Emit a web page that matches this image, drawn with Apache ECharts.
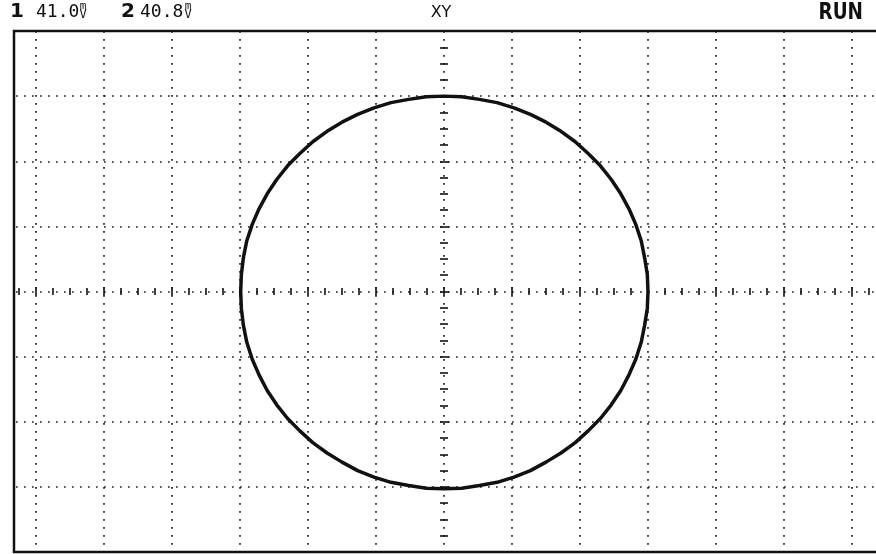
<!DOCTYPE html>
<html>
<head>
<meta charset="utf-8">
<script src="https://cdn.jsdelivr.net/npm/echarts@6/dist/echarts.min.js"></script>
<style>
  html, body { margin: 0; padding: 0; background: #fff; }
  #main { width: 876px; height: 554px; }
</style>
</head>
<body>
<div id="main"></div>
<script>
// XY trace in divisions (one point every 5 degrees)
const traceX = [3.00, 2.99, 2.95, 2.90, 2.82, 2.72, 2.60, 2.46, 2.30, 2.12, 1.93, 1.72, 1.50, 1.27, 1.03, 0.78, 0.52, 0.26, 0.00,
  -0.26, -0.52, -0.78, -1.03, -1.27, -1.50, -1.72, -1.93, -2.12, -2.30, -2.46, -2.60, -2.72, -2.82, -2.90, -2.95, -2.98, -2.99,
  -2.98, -2.95, -2.90, -2.82, -2.72, -2.60, -2.46, -2.30, -2.12, -1.93, -1.72, -1.50, -1.27, -1.03, -0.78, -0.52, -0.26, 0.00,
  0.26, 0.52, 0.78, 1.03, 1.27, 1.50, 1.72, 1.93, 2.12, 2.30, 2.46, 2.60, 2.72, 2.82, 2.90, 2.95, 2.99, 3.00];
const traceY = [0.00, 0.26, 0.52, 0.78, 1.03, 1.27, 1.50, 1.72, 1.93, 2.12, 2.30, 2.46, 2.60, 2.72, 2.82, 2.90, 2.95, 2.99, 3.00,
  2.99, 2.95, 2.90, 2.82, 2.72, 2.60, 2.46, 2.30, 2.12, 1.93, 1.72, 1.50, 1.27, 1.03, 0.78, 0.52, 0.26, 0.00,
  -0.26, -0.52, -0.78, -1.04, -1.28, -1.52, -1.74, -1.95, -2.14, -2.32, -2.48, -2.62, -2.75, -2.85, -2.93, -2.98, -3.02, -3.03,
  -3.02, -2.98, -2.93, -2.85, -2.75, -2.62, -2.48, -2.32, -2.14, -1.95, -1.74, -1.52, -1.28, -1.04, -0.78, -0.52, -0.26, 0.00];

// channel readouts
const channels = ['1', '2'];
const channelValues = ['41.0', '40.8'];
const channelUnit = ['m', 'V'];
const modeText = 'XY';
const stateText = 'RUN';

const ink = '#111';
const dotted = { color: '#222', width: 1.7, type: [1.7, 6.3] };

const chart = echarts.init(document.getElementById('main'));

const header = [
  { type: 'text', x: 10, y: 12, style: { text: channels[0], font: 'bold 20px "DejaVu Sans"', fill: ink, textVerticalAlign: 'middle' } },
  { type: 'text', x: 36, y: 12, style: { text: channelValues[0], font: '18px "DejaVu Sans Mono"', fill: ink, textVerticalAlign: 'middle' } },
  { type: 'text', x: 83, y: 6, style: { text: channelUnit[0], font: '11px "DejaVu Sans Mono"', fill: ink, textAlign: 'center', textVerticalAlign: 'middle' } },
  { type: 'text', x: 83, y: 15, style: { text: channelUnit[1], font: '12px "DejaVu Sans Mono"', fill: ink, textAlign: 'center', textVerticalAlign: 'middle' } },
  { type: 'text', x: 121, y: 12, style: { text: channels[1], font: 'bold 20px "DejaVu Sans"', fill: ink, textVerticalAlign: 'middle' } },
  { type: 'text', x: 140, y: 12, style: { text: channelValues[1], font: '18px "DejaVu Sans Mono"', fill: ink, textVerticalAlign: 'middle' } },
  { type: 'text', x: 188, y: 6, style: { text: channelUnit[0], font: '11px "DejaVu Sans Mono"', fill: ink, textAlign: 'center', textVerticalAlign: 'middle' } },
  { type: 'text', x: 188, y: 15, style: { text: channelUnit[1], font: '12px "DejaVu Sans Mono"', fill: ink, textAlign: 'center', textVerticalAlign: 'middle' } },
  { type: 'text', x: 441, y: 13, style: { text: modeText, font: '16px "DejaVu Sans"', fill: ink, textAlign: 'center', textVerticalAlign: 'middle' } },
  { type: 'text', x: 863, y: 13, scaleX: 0.8, style: { text: stateText, font: 'bold 23px "DejaVu Sans"', fill: ink, textAlign: 'right', textVerticalAlign: 'middle' } }
];

chart.setOption({
  backgroundColor: '#fff',
  animation: false,
  grid: { left: -32, top: 31, width: 952, height: 521, show: false, outerBoundsMode: 'none' },
  xAxis: {
    type: 'value', min: -7, max: 7, interval: 1,
    position: 'bottom', offset: -257,
    axisLine: { show: false, onZero: false },
    axisLabel: { show: false },
    axisTick: { show: true, inside: true, length: 8, lineStyle: { color: ink, width: 1.6 } },
    minorTick: { show: true, splitNumber: 4, length: 7, lineStyle: { color: ink, width: 1.6 } },
    splitLine: { show: true, lineStyle: dotted }
  },
  yAxis: {
    type: 'value', min: -4, max: 4, interval: 1,
    position: 'left', offset: -472,
    axisLine: { show: false, onZero: false },
    axisLabel: { show: false },
    axisTick: { show: true, inside: true, length: 9, lineStyle: { color: ink, width: 1.6 } },
    minorTick: { show: true, splitNumber: 4, length: 8, lineStyle: { color: ink, width: 1.6 } },
    splitLine: { show: true, lineStyle: dotted }
  },
  graphic: [
    // cover the part of the graticule left of the frame
    { type: 'rect', z: 50, shape: { x: 0, y: 22, width: 13, height: 532 }, style: { fill: '#fff' } },
    { type: 'rect', z: 51, shape: { x: 14, y: 31, width: 870, height: 521 }, style: { fill: 'none', stroke: ink, lineWidth: 2.5 } }
  ].concat(header.map(function (g) { g.z = 60; return g; })),
  series: [{
    type: 'line',
    data: traceX.map(function (x, i) { return [x, traceY[i]]; }),
    showSymbol: false,
    smooth: false,
    lineStyle: { color: ink, width: 3.5, join: 'round' }
  }]
});
</script>
</body>
</html>
